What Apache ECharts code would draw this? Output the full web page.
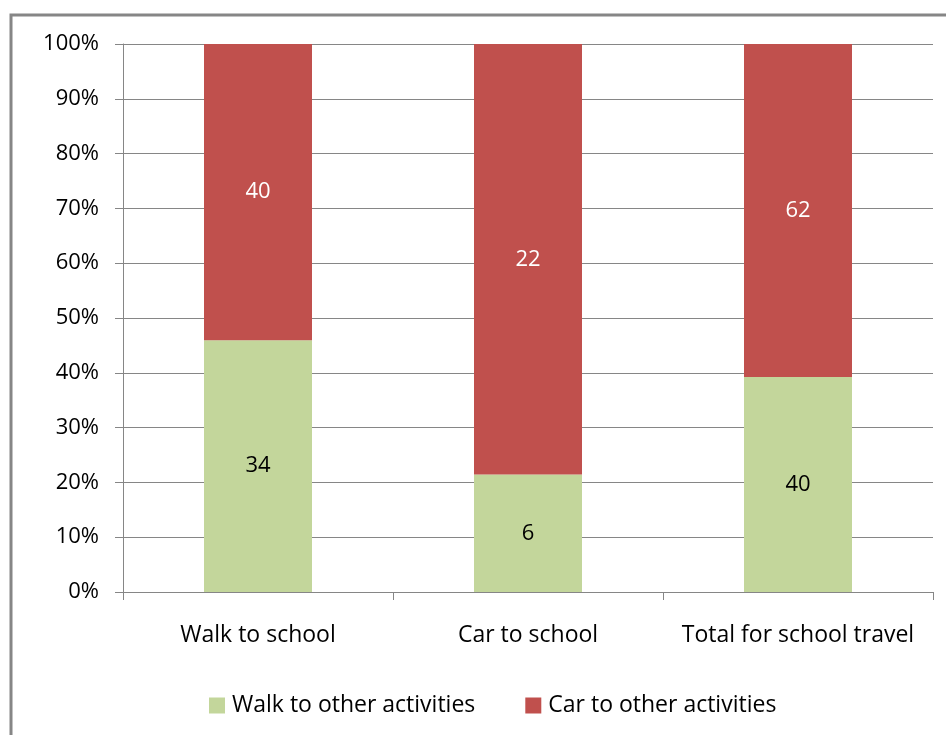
<!DOCTYPE html>
<html><head><meta charset="utf-8">
<script src="https://cdn.jsdelivr.net/npm/echarts@6/dist/echarts.min.js"></script>
<style>html,body{margin:0;padding:0;background:#fff}#c{width:946px;height:735px}</style>
</head><body><div id="c"></div>
<script>
var categories = ['Walk to school', 'Car to school', 'Total for school travel'];
var walkOther = [34, 6, 40];
var carOther = [40, 22, 62];
var seriesNames = ['Walk to other activities', 'Car to other activities'];
var yTicks = [0, 10, 20, 30, 40, 50, 60, 70, 80, 90, 100];

function pct(a, b, i) { return a[i] / (a[i] + b[i]) * 100; }
var walkPct = walkOther.map(function (v, i) { return { value: pct(walkOther, carOther, i), raw: v }; });
var carPct = carOther.map(function (v, i) { return { value: pct(carOther, walkOther, i), raw: v }; });

var font = 'Open Sans, Liberation Sans, sans-serif';
var chart = echarts.init(document.getElementById('c'), null, { renderer: 'canvas' });
chart.setOption({
  animation: false,
  backgroundColor: '#fff',
  graphic: [{
    type: 'polyline', silent: true,
    shape: { points: [[11, 740], [11, 15], [950, 15]] },
    style: { stroke: '#868686', lineWidth: 3, fill: null }
  }],
  grid: { left: 123, right: 13, top: 44, bottom: 143 },
  legend: {
    top: 689, left: 204, itemWidth: 16, itemHeight: 16, itemGap: 50,
    icon: 'rect',
    textStyle: { fontFamily: font, fontSize: 23, color: '#000', padding: [0, 0, 0, 2] },
    data: seriesNames
  },
  xAxis: {
    type: 'category', data: categories,
    axisLine: { lineStyle: { color: '#868686', width: 1 } },
    axisTick: { show: true, interval: 0, length: 8, lineStyle: { color: '#868686' } },
    axisLabel: { interval: 0, hideOverlap: false, fontFamily: font, fontSize: 23, color: '#000', margin: 32 }
  },
  yAxis: {
    type: 'value', min: 0, max: 100, interval: 10,
    axisLine: { show: true, lineStyle: { color: '#868686' } },
    axisTick: { show: true, length: 8, lineStyle: { color: '#868686' } },
    splitLine: { lineStyle: { color: '#868686', width: 1 } },
    axisLabel: { fontFamily: font, fontSize: 22, color: '#000', margin: 24,
      formatter: function (v) { return v + '%'; } }
  },
  series: [{
    name: seriesNames[0], type: 'bar', stack: 's', barWidth: '40%',
    itemStyle: { color: '#C3D69B' },
    label: { show: true, position: 'inside', fontFamily: font, fontSize: 22, color: '#000',
      formatter: function (p) { return p.data.raw; } },
    data: walkPct
  }, {
    name: seriesNames[1], type: 'bar', stack: 's', barWidth: '40%',
    itemStyle: { color: '#C0504D' },
    label: { show: true, position: 'inside', fontFamily: font, fontSize: 22, color: '#fff',
      formatter: function (p) { return p.data.raw; } },
    data: carPct
  }]
});
</script></body></html>
